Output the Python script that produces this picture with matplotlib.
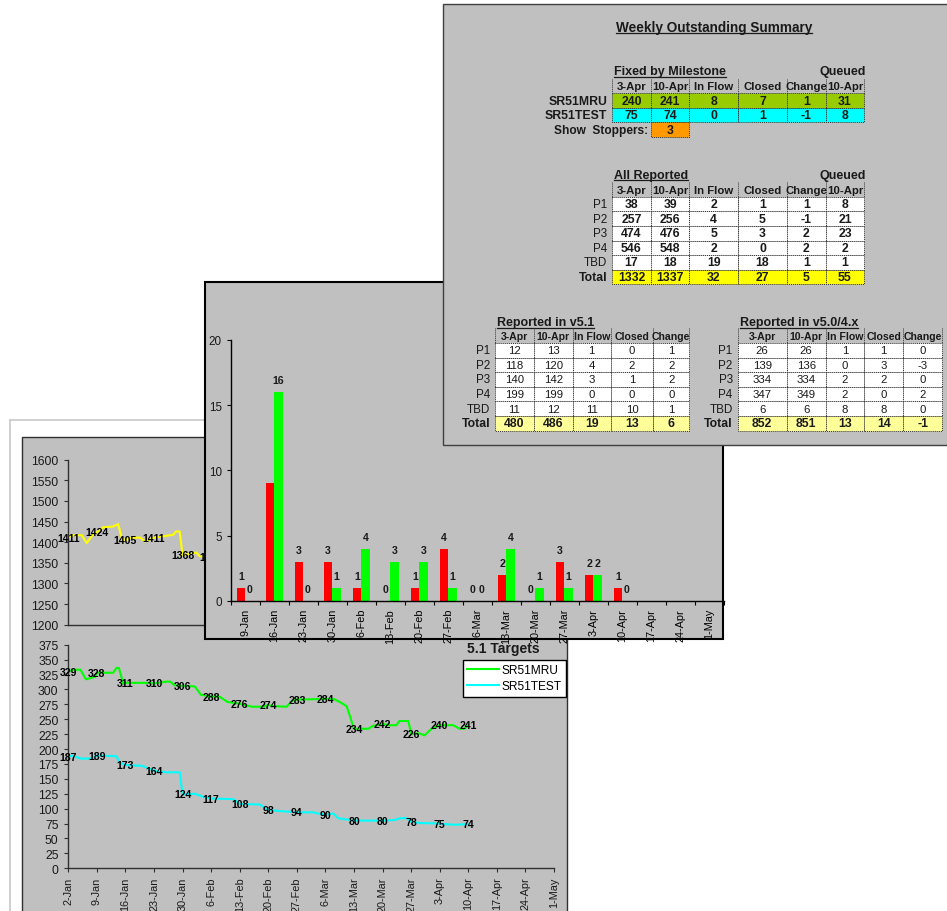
import matplotlib
matplotlib.use('Agg')
import matplotlib.pyplot as plt
import numpy as np
from matplotlib.lines import Line2D
from matplotlib.patches import Rectangle

plt.rcParams['font.family'] = ['Liberation Sans', 'DejaVu Sans']
NARROW = ['Liberation Sans Narrow', 'Liberation Sans', 'DejaVu Sans']

W, H = 947, 912
PANEL = '#c0c0c0'
INK = '#1a1a1a'

# weekly found / fixed counts
bar_weeks = ['9-Jan', '16-Jan', '23-Jan', '30-Jan', '6-Feb', '13-Feb', '20-Feb',
             '27-Feb', '6-Mar', '13-Mar', '20-Mar', '27-Mar', '3-Apr', '10-Apr',
             '17-Apr', '24-Apr', '1-May']
found = [1, 9, 3, 3, 1, 0, 1, 4, 0, 2, 0, 3, 2, 1]
fixed = [0, 16, 0, 1, 4, 3, 3, 1, 0, 4, 1, 1, 2, 0]
found_unlabelled = [1]

# outstanding counts, day 0 = 2-Jan
week_ticks = ['2-Jan', '9-Jan', '16-Jan', '23-Jan', '30-Jan', '6-Feb', '13-Feb',
              '20-Feb', '27-Feb', '6-Mar', '13-Mar', '20-Mar', '27-Mar', '3-Apr',
              '10-Apr', '17-Apr', '24-Apr', '1-May']
total_days = [0, 1, 3.3, 4.5, 6, 7, 8.5, 11, 12.2, 13.1, 14, 15.5, 17.6, 18.8, 21,
              25.7, 26.4, 27.3, 28, 31.4, 32.2, 35]
total_vals = [1411, 1417, 1417, 1398, 1418, 1424, 1436, 1438, 1444, 1410, 1405,
              1411, 1411, 1402, 1411, 1418, 1426, 1426, 1368, 1375, 1366, 1364]
mru_days = [0, 1, 3, 4.3, 5.5, 6.5, 7, 11, 11.8, 12.4, 13.5, 14, 20, 21, 24, 25,
            26, 28, 31, 32.5, 35, 37, 39, 42, 45, 48, 49, 50, 53.5, 55, 56, 63,
            65, 66.5, 68.2, 70, 73.5, 74.7, 77, 78.8, 80.4, 81.1, 83.3, 84, 86.1,
            87.3, 89, 91, 94.3, 95.9, 97.1, 98]
mru_vals = [329, 333, 333, 317, 319, 321, 328, 328, 336, 336, 309, 311, 311, 310,
            313, 313, 307, 306, 305, 291, 288, 288, 279, 276, 271, 271, 274, 272,
            271, 282, 283, 284, 284, 279, 272, 234, 234, 239, 242, 240, 240, 247,
            247, 226, 226, 223, 234, 240, 240, 234, 234, 241]
test_days = [0, 1, 3, 5.5, 7, 11.8, 12.5, 14, 18, 21, 24, 27.3, 28, 31, 33, 35,
             40.4, 42, 46.9, 49, 51.8, 56, 60, 61, 63, 64.9, 66.1, 70, 77, 80,
             81.2, 83, 84, 86.1, 91, 94.3, 98]
test_vals = [187, 189, 184, 184, 189, 188, 178, 173, 172, 164, 161, 161, 124, 125,
             120, 117, 116, 108, 107, 98, 96, 94, 94, 92, 90, 92, 84, 80, 80, 81,
             84, 84, 78, 76, 75, 73, 74]

# summary tables
summary_cols = ['3-Apr', '10-Apr', 'In Flow', 'Closed', 'Change', '10-Apr']
release_cols = ['3-Apr', '10-Apr', 'In Flow', 'Closed', 'Change']
milestone_rows = ['SR51MRU', 'SR51TEST']
milestone_vals = [[240, 241, 8, 7, 1, 31],
                  [75, 74, 0, 1, -1, 8]]
show_stoppers = 3
priority_rows = ['P1', 'P2', 'P3', 'P4', 'TBD', 'Total']
all_vals = [[38, 39, 2, 1, 1, 8],
            [257, 256, 4, 5, -1, 21],
            [474, 476, 5, 3, 2, 23],
            [546, 548, 2, 0, 2, 2],
            [17, 18, 19, 18, 1, 1],
            [1332, 1337, 32, 27, 5, 55]]
v51_vals = [[12, 13, 1, 0, 1],
            [118, 120, 4, 2, 2],
            [140, 142, 3, 1, 2],
            [199, 199, 0, 0, 0],
            [11, 12, 11, 10, 1],
            [480, 486, 19, 13, 6]]
v50_vals = [[26, 26, 1, 1, 0],
            [139, 136, 0, 3, -3],
            [334, 334, 2, 2, 0],
            [347, 349, 2, 0, 2],
            [6, 6, 8, 8, 0],
            [852, 851, 13, 14, -1]]

fig = plt.figure(figsize=(W / 100, H / 100), dpi=100)
fig.patch.set_facecolor('white')


def box(x0, y0, x1, y1):
    return [x0 / W, 1 - y1 / H, (x1 - x0) / W, (y1 - y0) / H]


def overlay(z):
    ax = fig.add_axes([0, 0, 1, 1], zorder=z)
    ax.set_xlim(0, W)
    ax.set_ylim(H, 0)
    ax.axis('off')
    return ax


def chart_axes(ax, spine='#303030'):
    ax.patch.set_alpha(0)
    for s in ('top', 'right'):
        ax.spines[s].set_visible(False)
    for s in ('left', 'bottom'):
        ax.spines[s].set_color(spine)
        ax.spines[s].set_linewidth(1.0)
    ax.tick_params(colors=spine, labelcolor=INK, direction='out')


def label_points(ax, days, vals):
    for d, v in zip(days, vals):
        if d % 7 == 0:
            ax.text(d, v, str(v), ha='center', va='center', fontsize=7.6,
                    fontweight='bold', color='black', zorder=5)


# ---- line chart sheet (bottom layer) ----
back = overlay(1)
back.plot([10, 10], [421, H + 5], color='#c8c8c8', lw=1.2)
back.plot([10, 450], [421, 421], color='#c8c8c8', lw=1.2)
back.add_patch(Rectangle((22, 438), 545, 500, facecolor=PANEL,
                         edgecolor='#303030', lw=1.0))
back.text(503, 649, '5.1 Targets', ha='center', va='center', fontsize=10,
          fontweight='bold', color=INK)

ax_tot = fig.add_axes(box(68.3, 460.7, 554, 625.7), zorder=2)
chart_axes(ax_tot)
ax_tot.plot(total_days, total_vals, color='#ffff00', lw=1.5)
label_points(ax_tot, total_days, total_vals)
ax_tot.set_xlim(0, 119)
ax_tot.set_ylim(1200, 1600)
ax_tot.set_yticks(np.arange(1200, 1601, 50))
ax_tot.set_xticks([])
ax_tot.tick_params(axis='y', length=3, pad=4, labelsize=8.8)

ax_ms = fig.add_axes(box(68.3, 645.7, 554, 869.3), zorder=2)
chart_axes(ax_ms)
ax_ms.plot(mru_days, mru_vals, color='#00ff00', lw=1.5)
ax_ms.plot(test_days, test_vals, color='#00ffff', lw=1.5)
label_points(ax_ms, mru_days, mru_vals)
label_points(ax_ms, test_days, test_vals)
ax_ms.set_xlim(0, 119)
ax_ms.set_ylim(0, 375)
ax_ms.set_yticks(np.arange(0, 376, 25))
ax_ms.set_xticks(np.arange(0, 120, 7))
ax_ms.set_xticklabels(week_ticks, rotation=90)
ax_ms.tick_params(axis='y', length=3, pad=4, labelsize=8.8)
ax_ms.tick_params(axis='x', length=3, pad=3, labelsize=7.8)
handles = [Line2D([], [], color='#00ff00', lw=1.5),
           Line2D([], [], color='#00ffff', lw=1.5)]
leg = ax_ms.legend(handles, milestone_rows, loc='upper left',
                   bbox_to_anchor=(463 / W, 1 - 661 / H),
                   bbox_transform=fig.transFigure, borderaxespad=0,
                   fancybox=False, edgecolor='black', facecolor='white',
                   framealpha=1, fontsize=8.6, borderpad=0.35, handlelength=2.7,
                   handletextpad=0.2, labelspacing=0.35)
leg.get_frame().set_linewidth(1.0)

# ---- weekly bar chart (middle layer) ----
mid = overlay(3)
mid.add_patch(Rectangle((205, 283), 518, 357, facecolor=PANEL,
                        edgecolor='black', lw=1.5))

axb = fig.add_axes(box(230.7, 340.7, 723.7, 602), zorder=4)
chart_axes(axb, spine='black')
xs = np.arange(len(bar_weeks))
bw = 0.287
axb.bar(xs[:len(found)] - bw / 2, found, width=bw, color='#ff0000')
axb.bar(xs[:len(fixed)] + bw / 2, fixed, width=bw, color='#00ff00')
for i, v in enumerate(found):
    if i not in found_unlabelled:
        axb.annotate(str(v), (i - bw / 2, v), xytext=(0, 8.5),
                     textcoords='offset points', ha='center', va='center',
                     fontsize=7.6, fontweight='bold', color=INK)
for i, v in enumerate(fixed):
    axb.annotate(str(v), (i + bw / 2, v), xytext=(0, 8.5),
                 textcoords='offset points', ha='center', va='center',
                 fontsize=7.6, fontweight='bold', color=INK)
axb.set_xlim(-0.5, len(bar_weeks) - 0.5)
axb.set_ylim(0, 20)
axb.set_yticks([0, 5, 10, 15, 20])
axb.set_xticks(np.arange(-0.5, len(bar_weeks)))
axb.set_xticklabels([])
axb.set_xticks(xs, minor=True)
axb.set_xticklabels(bar_weeks, minor=True, rotation=90)
axb.tick_params(axis='x', which='major', length=3)
axb.tick_params(axis='x', which='minor', length=0, pad=5, labelsize=7.8)
axb.tick_params(axis='y', length=3, pad=3.5, labelsize=8.4)

# ---- weekly outstanding summary (top layer) ----
top = overlay(5)
top.add_patch(Rectangle((442.5, 5), 510, 441, facecolor=PANEL,
                        edgecolor='#404040', lw=1.0))
renderer = fig.canvas.get_renderer()


def underlined(x, y, s, ha='left', size=9.0):
    t = top.text(x, y, s, ha=ha, va='baseline', family=NARROW, fontsize=size,
                 fontweight='bold', color=INK)
    bb = t.get_window_extent(renderer).transformed(top.transData.inverted())
    top.plot([bb.x0, bb.x1], [y + 2, y + 2], color=INK, lw=0.9)


DOT = (0, (1, 1))


def grid_table(cols, head_y, first_y, row_h, headers, labels, values, fills,
               body_bold, label_bold, head_size=8.2):
    for xc in cols:
        top.plot([xc, xc], [head_y - row_h / 2, head_y + row_h / 2],
                 color='#333333', lw=0.7, ls=DOT)
    for xl, xr, h in zip(cols[:-1], cols[1:], headers):
        top.text((xl + xr) / 2, head_y, h, ha='center', va='center',
                 family=NARROW, fontsize=head_size, fontweight='bold', color=INK)
    for r, (lab, row, fc) in enumerate(zip(labels, values, fills)):
        y0 = first_y + r * row_h
        total = lab == 'Total'
        bold = body_bold or total
        top.text(cols[0] - 5, y0 + row_h / 2, lab, ha='right', va='center',
                 family=NARROW, fontsize=8.8 if (label_bold or total) else 8.4,
                 fontweight='bold' if (label_bold or total) else 'normal',
                 color=INK)
        for c, v in enumerate(row):
            top.add_patch(Rectangle((cols[c], y0), cols[c + 1] - cols[c], row_h,
                                    facecolor=fc, edgecolor='#333333', lw=0.7,
                                    ls=DOT))
            top.text((cols[c] + cols[c + 1]) / 2, y0 + row_h / 2, str(v),
                     ha='center', va='center', family=NARROW,
                     fontsize=8.8 if bold else 8.2,
                     fontweight='bold' if bold else 'normal', color=INK)


underlined(714, 32, 'Weekly Outstanding Summary', ha='center', size=9.8)

cols_all = [612.3, 650.7, 689.3, 738.3, 786.7, 825.7, 864.3]
underlined(614, 75.5, 'Fixed by Milestone')
top.text(866, 75.5, 'Queued', ha='right', va='baseline', family=NARROW,
         fontsize=9.0, fontweight='bold', color=INK)
grid_table(cols_all, 87.3, 94.3, 14.5, summary_cols, milestone_rows,
           milestone_vals, ['#99cc00', '#00ffff'], True, True)
stop_y = 94.3 + 2 * 14.5
top.add_patch(Rectangle((cols_all[1], stop_y), cols_all[2] - cols_all[1], 14.5,
                        facecolor='#ff9900', edgecolor='#333333', lw=0.7, ls=DOT))
top.text((cols_all[1] + cols_all[2]) / 2, stop_y + 7.25, str(show_stoppers),
         ha='center', va='center', family=NARROW, fontsize=8.8,
         fontweight='bold', color=INK)
top.text(cols_all[1] - 3, stop_y + 7.25, 'Show  Stoppers:', ha='right',
         va='center', family=NARROW, fontsize=8.6, fontweight='bold', color=INK)

underlined(614, 179, 'All Reported')
top.text(866, 179, 'Queued', ha='right', va='baseline', family=NARROW,
         fontsize=9.0, fontweight='bold', color=INK)
grid_table(cols_all, 190.5, 197.8, 14.6, summary_cols, priority_rows, all_vals,
           ['white'] * 5 + ['#ffff00'], True, False)

cols_51 = [495, 534, 572.7, 610.7, 653.3, 689.3]
cols_50 = [737.7, 786.7, 825.7, 864, 903.3, 942.3]
underlined(497, 326.5, 'Reported in v5.1')
underlined(740, 326.5, 'Reported in v5.0/4.x')
grid_table(cols_51, 336.7, 344, 14.6, release_cols, priority_rows, v51_vals,
           ['white'] * 5 + ['#ffff99'], False, False, head_size=7.6)
grid_table(cols_50, 336.7, 344, 14.6, release_cols, priority_rows, v50_vals,
           ['white'] * 5 + ['#ffff99'], False, False, head_size=7.6)

fig.savefig('out.png', dpi=100)
